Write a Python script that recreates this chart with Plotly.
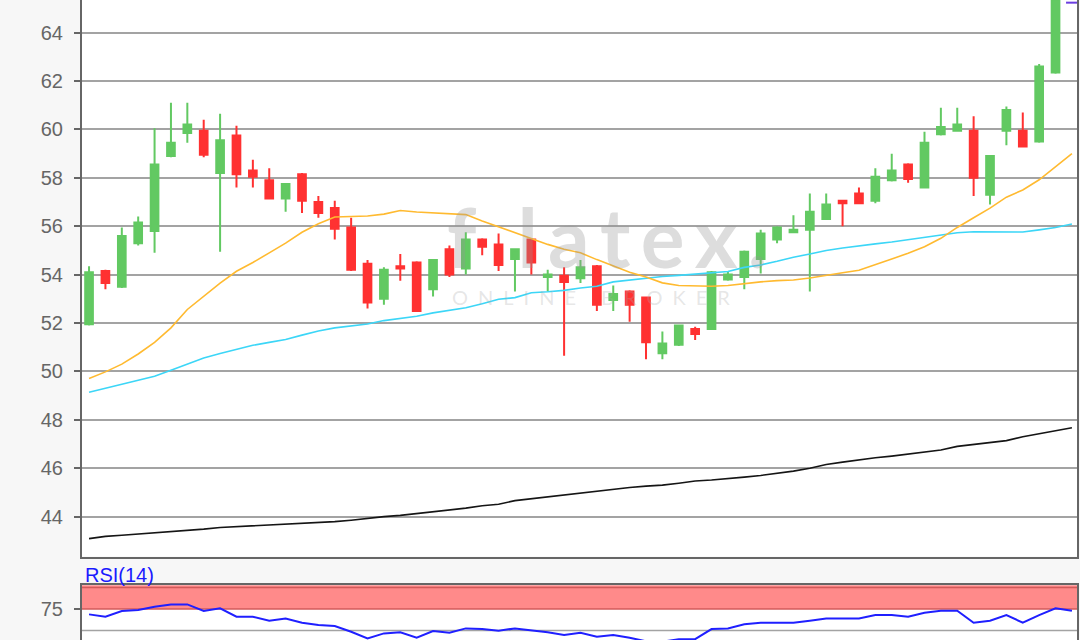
import plotly.graph_objects as go

# ---------------- data ----------------
candle_idx = list(range(60))
opens = [51.95, 54.15, 53.5, 55.3, 55.8, 58.9, 59.85, 59.95, 58.2, 59.75,
         58.3, 57.9, 57.15, 58.15, 57.0, 56.75, 55.95, 54.45, 53.0, 54.35,
         54.5, 53.4, 55.05, 54.25, 55.45, 55.25, 54.65, 55.45, 53.9, 53.95,
         53.85, 54.35, 52.95, 53.3, 53.05, 50.75, 51.1, 51.75, 51.75, 53.8,
         53.9, 54.65, 55.45, 55.75, 55.85, 56.3, 57.05, 57.35, 57.05, 57.9,
         58.55, 57.6, 59.8, 59.95, 59.95, 57.3, 59.95, 59.95, 59.5, 62.35]
highs = [54.35, 54.2, 55.95, 56.4, 60.05, 61.1, 61.1, 60.4, 60.65, 60.15,
         58.75, 58.4, 57.75, 58.2, 57.25, 57.05, 56.35, 54.6, 54.3, 54.85,
         54.55, 54.65, 55.2, 55.75, 55.5, 55.7, 55.05, 55.5, 54.2, 54.3,
         54.6, 54.4, 53.55, 53.35, 53.1, 51.65, 51.9, 51.85, 54.15, 54.15,
         55.0, 55.85, 56.0, 56.45, 57.35, 57.35, 57.05, 57.6, 58.4, 59.0,
         58.6, 59.9, 60.9, 60.9, 60.55, 58.9, 60.95, 60.7, 62.7, 65.5]
lows = [51.9, 53.4, 53.45, 55.2, 54.9, 58.85, 59.45, 58.85, 54.95, 57.6,
        57.6, 57.1, 56.6, 56.55, 56.35, 55.45, 54.15, 52.6, 52.75, 53.75,
        52.5, 53.1, 53.9, 54.0, 54.8, 54.15, 53.3, 54.0, 53.3, 50.65,
        53.65, 52.5, 52.5, 52.05, 50.5, 50.5, 51.05, 51.3, 51.75, 53.75,
        53.4, 54.05, 55.3, 55.75, 53.3, 56.3, 56.0, 56.95, 56.95, 57.85,
        57.8, 57.6, 59.75, 59.95, 57.25, 56.9, 59.35, 59.25, 59.45, 62.3]
closes = [54.1, 53.65, 55.6, 56.15, 58.55, 59.45, 60.2, 58.95, 59.55, 58.15,
          58.05, 57.15, 57.75, 57.05, 56.55, 55.9, 54.2, 52.85, 54.2, 54.25,
          52.5, 54.6, 54.0, 55.45, 55.15, 54.4, 55.05, 54.5, 54.0, 53.7,
          54.3, 52.75, 53.2, 52.75, 51.2, 51.15, 51.9, 51.55, 54.1, 54.0,
          54.95, 55.7, 55.95, 55.85, 56.6, 56.9, 56.95, 56.95, 58.05, 58.3,
          57.95, 59.45, 60.1, 60.2, 58.0, 58.9, 60.8, 59.3, 62.6, 65.4]
last_price = 65.24

ind_idx = list(range(61))
ma_short = [49.71, 49.98, 50.3, 50.72, 51.2, 51.8, 52.56, 53.1, 53.65, 54.14,
            54.5, 54.9, 55.3, 55.75, 56.1, 56.38, 56.41, 56.42, 56.5, 56.65,
            56.59, 56.55, 56.52, 56.48, 56.22, 55.98, 55.75, 55.5, 55.25, 55.05,
            54.9, 54.62, 54.35, 54.1, 53.9, 53.66, 53.55, 53.52, 53.52, 53.55,
            53.63, 53.7, 53.75, 53.78, 53.86, 53.98, 54.08, 54.18, 54.4, 54.65,
            54.88, 55.15, 55.5, 55.95, 56.35, 56.75, 57.2, 57.5, 57.92, 58.45, 59.0]
ma_mid = [49.14, 49.3, 49.45, 49.62, 49.8, 50.05, 50.3, 50.55, 50.74, 50.92,
          51.08, 51.2, 51.32, 51.5, 51.67, 51.8, 51.88, 51.96, 52.1, 52.2,
          52.28, 52.42, 52.52, 52.63, 52.8, 52.98, 53.05, 53.25, 53.29, 53.35,
          53.45, 53.52, 53.7, 53.78, 53.85, 53.92, 53.97, 54.02, 54.07, 54.13,
          54.3, 54.4, 54.55, 54.72, 54.85, 55.0, 55.1, 55.2, 55.27, 55.35,
          55.45, 55.55, 55.65, 55.73, 55.77, 55.76, 55.76, 55.76, 55.85, 55.95, 56.09]
ma_long = [43.09, 43.18, 43.23, 43.28, 43.32, 43.36, 43.41, 43.48, 43.55, 43.58,
           43.61, 43.64, 43.68, 43.72, 43.75, 43.79, 43.85, 43.93, 44.0, 44.05,
           44.12, 44.2, 44.28, 44.35, 44.45, 44.51, 44.66, 44.74, 44.82, 44.9,
           44.98, 45.05, 45.12, 45.2, 45.26, 45.3, 45.38, 45.47, 45.51, 45.56,
           45.63, 45.7, 45.78, 45.88, 46.0, 46.15, 46.25, 46.35, 46.43, 46.5,
           46.58, 46.66, 46.75, 46.9, 46.98, 47.08, 47.14, 47.3, 47.42, 47.55, 47.67]
rsi = [68.8, 66.1, 72.7, 73.8, 77.7, 80.4, 80.4, 72.7, 75.8, 66.1,
       66.1, 61.4, 64.1, 59.1, 56.4, 55.2, 48.6, 40.9, 46.7, 47.9,
       41.6, 49.4, 47.4, 52.5, 51.7, 49.8, 52.5, 50.6, 47.9, 44.8,
       47.4, 42.8, 44.8, 41.6, 37.5, 37.0, 40.0, 40.0, 51.7, 52.5,
       57.2, 59.1, 59.1, 59.1, 61.4, 64.1, 64.1, 64.1, 68.0, 68.0,
       66.1, 70.7, 73.0, 73.0, 59.1, 61.4, 68.0, 59.1, 68.0, 75.8, 73.0]

price_ticks = [44, 46, 48, 50, 52, 54, 56, 58, 60, 62, 64]
rsi_ticks = [75]
rsi_upper = [75, 100]
rsi_mid = 50

# ---------------- styling ----------------
GREEN = "#62c962"
RED = "#ff3131"
AXIS = "#666666"
GRID = "#a3a3a3"
FONT = "Liberation Sans, Arial, sans-serif"

fig = go.Figure()
fig.add_trace(go.Candlestick(
    x=candle_idx, open=opens, high=highs, low=lows, close=closes,
    increasing=dict(line=dict(color=GREEN, width=2), fillcolor=GREEN),
    decreasing=dict(line=dict(color=RED, width=2), fillcolor=RED),
    whiskerwidth=0, hoverinfo="skip", xaxis="x", yaxis="y"))
fig.add_trace(go.Scatter(x=ind_idx, y=ma_long, mode="lines",
                         line=dict(color="#151515", width=1.6), xaxis="x", yaxis="y"))
fig.add_trace(go.Scatter(x=ind_idx, y=ma_mid, mode="lines",
                         line=dict(color="#3cd6f7", width=1.6), xaxis="x", yaxis="y"))
fig.add_trace(go.Scatter(x=ind_idx, y=ma_short, mode="lines",
                         line=dict(color="#ffba30", width=1.6), xaxis="x", yaxis="y"))
fig.add_trace(go.Scatter(x=ind_idx, y=rsi, mode="lines",
                         line=dict(color="#1f1fff", width=2), xaxis="x2", yaxis="y2"))

shapes = [
    # overbought band
    dict(type="rect", xref="x2 domain", yref="y2", x0=0, x1=1, y0=rsi_upper[0], y1=110,
         fillcolor="#ff8a8a", line=dict(width=0), layer="below"),
    dict(type="line", xref="x2 domain", yref="y2", x0=0, x1=1, y0=rsi_upper[1], y1=rsi_upper[1],
         line=dict(color="#d25a5a", width=1.6), layer="below"),
    dict(type="line", xref="x2 domain", yref="y2", x0=0, x1=1, y0=rsi_upper[0], y1=rsi_upper[0],
         line=dict(color="#d25a5a", width=1.6), layer="below"),
    dict(type="line", xref="x2 domain", yref="y2", x0=0, x1=1, y0=rsi_mid, y1=rsi_mid,
         line=dict(color=GRID, width=1.6), layer="below"),
    # last price marker
    dict(type="line", xref="x domain", yref="y", x0=0.989, x1=1.0, y0=last_price, y1=last_price,
         line=dict(color="#6a3de0", width=2)),
]

annotations = [
    dict(text="RSI(14)", xref="paper", yref="paper", x=0.0, y=1 - 575 / 640,
         xanchor="left", yanchor="middle", xshift=1, showarrow=False,
         font=dict(family=FONT, size=20, color="#1a1aff")),
    dict(text="f\u2002l\u2009a\u2009t\u2009e\u2009x\u2009.", xref="paper", yref="paper",
         x=0.528, y=1 - 236 / 640, xanchor="center", yanchor="middle", showarrow=False,
         font=dict(family="Lato, sans-serif", size=82, color="rgba(150,150,150,0.32)",
                   weight="bold")),
    dict(text="O\u2002N\u2002L\u2002I\u2002N\u2002E\u2003\u2002B\u2002R\u2002O\u2002K\u2002E\u2002R",
         xref="paper", yref="paper", x=0.512, y=1 - 297 / 640, xanchor="center", yanchor="middle",
         showarrow=False, font=dict(family="Lato, sans-serif", size=20, color="rgba(170,170,170,0.3)")),
]

xr = [-0.43, 60.31]
fig.update_layout(
    width=1080, height=640,
    margin=dict(l=82, r=2.5, t=0, b=0, pad=0),
    paper_bgcolor="#f7f7f7", plot_bgcolor="#ffffff",
    showlegend=False, boxgap=0.33,
    shapes=shapes, annotations=annotations,
    xaxis=dict(domain=[0, 1], anchor="y", range=xr, showgrid=False, zeroline=False,
               showticklabels=False, ticks="", showline=True, linecolor=AXIS, linewidth=2,
               mirror=False, rangeslider=dict(visible=False), fixedrange=True),
    yaxis=dict(domain=[1 - 556.5 / 640, 1], anchor="x", range=[42.35, 65.35],
               tickvals=price_ticks, ticks="outside", ticklen=6, tickwidth=1.5, tickcolor=AXIS,
               tickfont=dict(family=FONT, size=20, color="#666666"), ticklabelstandoff=7,
               showgrid=True, gridcolor=GRID, gridwidth=1.6, zeroline=False,
               showline=True, linecolor=AXIS, linewidth=2, mirror=True, automargin=False),
    xaxis2=dict(domain=[0, 1], anchor="y2", range=xr, side="top", showgrid=False,
                zeroline=False, showticklabels=False, ticks="", showline=True,
                linecolor=AXIS, linewidth=2, mirror=False),
    yaxis2=dict(domain=[0, 1 - 585.3 / 640], anchor="x2", range=[39.0, 102.6],
                tickvals=rsi_ticks, ticks="outside", ticklen=6, tickwidth=1.5, tickcolor=AXIS,
                tickfont=dict(family=FONT, size=20, color="#666666"), ticklabelstandoff=7,
                showgrid=False, zeroline=False, showline=True, linecolor=AXIS, linewidth=2,
                mirror=True, automargin=False),
)

fig.write_html("out.html", config={"displayModeBar": False},
               post_script="document.body.style.margin='0px';")
